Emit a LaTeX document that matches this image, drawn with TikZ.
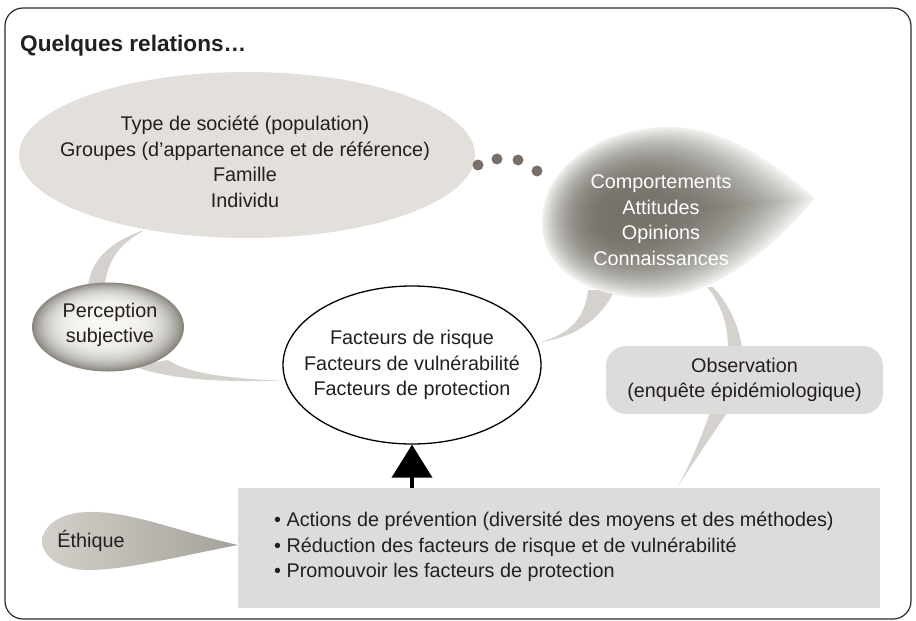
\documentclass[tikz,border=0pt]{standalone}
\usepackage{fontspec}
\setmainfont{Liberation Sans}
\usetikzlibrary{shapes.geometric,arrows.meta}
\definecolor{txt}{HTML}{231F20}
\definecolor{ellfill}{HTML}{E3E0DC}
\definecolor{tailc}{HTML}{D5D1CD}
\definecolor{boxfill}{HTML}{DCDCDE}
\definecolor{obsfill}{HTML}{DDDCDB}
\definecolor{dotc}{HTML}{7A6F68}
\definecolor{framec}{HTML}{2B2B2B}
\definecolor{bA}{HTML}{75726A}
\definecolor{bE}{HTML}{F0EFEC}
\definecolor{pA}{HTML}{F7F6F2}
\definecolor{pD}{HTML}{8A877F}
\definecolor{ethl}{HTML}{D3D0CA}
\definecolor{ethr}{HTML}{A4A19A}
\begin{document}
\begin{tikzpicture}[x=1pt,y=-1pt,
  font=\fontsize{19.8}{25.5}\selectfont,
  every node/.style={text=txt, inner sep=0pt, align=center},
  tail/.style={fill=tailc, draw=none},
  dotstyle/.style={circle, fill=dotc, minimum size=11pt, inner sep=0pt},
  bubble/.style={ellipse, inner sep=0pt}]
\useasboundingbox (0,0) rectangle (916,621);
\fill[white] (0,0) rectangle (916,621);
% frame
\draw[framec, line width=1.2pt, rounded corners=18pt] (5,8) rectangle (911,619);
\node[anchor=base west, font=\bfseries\fontsize{22.6}{26}\selectfont] (title) at (20,51) {Quelques relations…};

% tails (behind)
\fill[tail] (141,231) .. controls (105,245) and (90,262) .. (87,292) -- (104,292) .. controls (106,262) and (118,245) .. (143,231) -- cycle;
\fill[tail] (133,366) .. controls (170,380) and (220,382) .. (284,381) .. controls (220,378) and (185,372) .. (168,360) -- cycle;
\fill[tail] (588,290) .. controls (585,322) and (565,335) .. (541,342) .. controls (575,337) and (600,320) .. (615,290) -- cycle;
\fill[tail] (707,287) .. controls (722,305) and (728,325) .. (728,348) -- (742,348) .. controls (738,320) and (725,300) .. (713,287) -- cycle;
\fill[tail] (711,410) .. controls (700,440) and (690,465) .. (677,488) .. controls (695,460) and (712,435) .. (729,410) -- cycle;

% society ellipse
\node[bubble, fill=ellfill, minimum width=456pt, minimum height=166pt] (soc) at (247,155) {};
\node (soctxt) at (245,162) {Type de société (population)\\Groupes (d’appartenance et de référence)\\Famille\\Individu};

% dots
\node[dotstyle] (d1) at (478,165) {};
\node[dotstyle] (d2) at (497,159) {};
\node[dotstyle] (d3) at (518,160) {};
\node[dotstyle] (d4) at (537,171) {};

% behaviours blob (layered gradient)
\foreach \k in {0,...,39}{
  \pgfmathsetmacro{\s}{1-\k/40}
  \pgfmathsetmacro{\pc}{100*(1-\s^3)}
  \colorlet{lay}{bA!\pc!bE}
  \fill[lay, shift={(622,215)}, scale=\s, shift={(-622,-215)}]
    (542,220) .. controls (544,160) and (610,127) .. (670,127)
    .. controls (730,127) and (780,170) .. (815,198)
    .. controls (780,240) and (720,298) .. (650,298)
    .. controls (590,298) and (540,270) .. (542,220) -- cycle;
}
\node[text=white] (cmp) at (661,220) {Comportements\\Attitudes\\Opinions\\Connaissances};

% perception (layered gradient)
\foreach \k in {0,...,39}{
  \pgfmathsetmacro{\s}{1-\k/40}
  \pgfmathsetmacro{\pc}{100*\s^4}
  \colorlet{lay}{pD!\pc!pA}
  \fill[lay] ({102+6*\s},{320+7*\s}) ellipse [x radius={76*\s}, y radius={44.5*\s}];
}
\node[bubble, minimum width=152pt, minimum height=89pt] (perc) at (108,327) {};
\node (perctxt) at (110,325) {Perception\\subjective};

% factors ellipse
\node[bubble, draw=black, line width=1.3pt, fill=white, minimum width=258pt, minimum height=158pt] (fac) at (412,365) {};
\node (factxt) at (412,365) {Facteurs de risque\\Facteurs de vulnérabilité\\Facteurs de protection};

% observation
\node[fill=obsfill, rounded corners=20pt, minimum width=277pt, minimum height=68pt] (obs) at (744.5,380) {Observation\\(enquête épidémiologique)};

% actions box
\node[fill=boxfill, minimum width=642pt, minimum height=120pt] (act) at (559,548) {};
\node[anchor=west, align=left] (acttxt) at (274,547) {• Actions de prévention (diversité des moyens et des méthodes)\\• Réduction des facteurs de risque et de vulnérabilité\\• Promouvoir les facteurs de protection};

% ethique teardrop
\shade[left color=ethl, right color=ethr]
  (238,545) .. controls (180,532) and (130,511) .. (90,512)
  .. controls (55,512) and (42,530) .. (42,541)
  .. controls (42,556) and (60,571) .. (92,570)
  .. controls (130,569) and (180,556) .. (238,545) -- cycle;
\node (eth) at (91,541) {Éthique};

% arrow
\draw[black, line width=4pt, -{Triangle[width=40pt,length=33pt]}] (act.north -| fac.south) -- (fac.south);
\end{tikzpicture}
\end{document}
